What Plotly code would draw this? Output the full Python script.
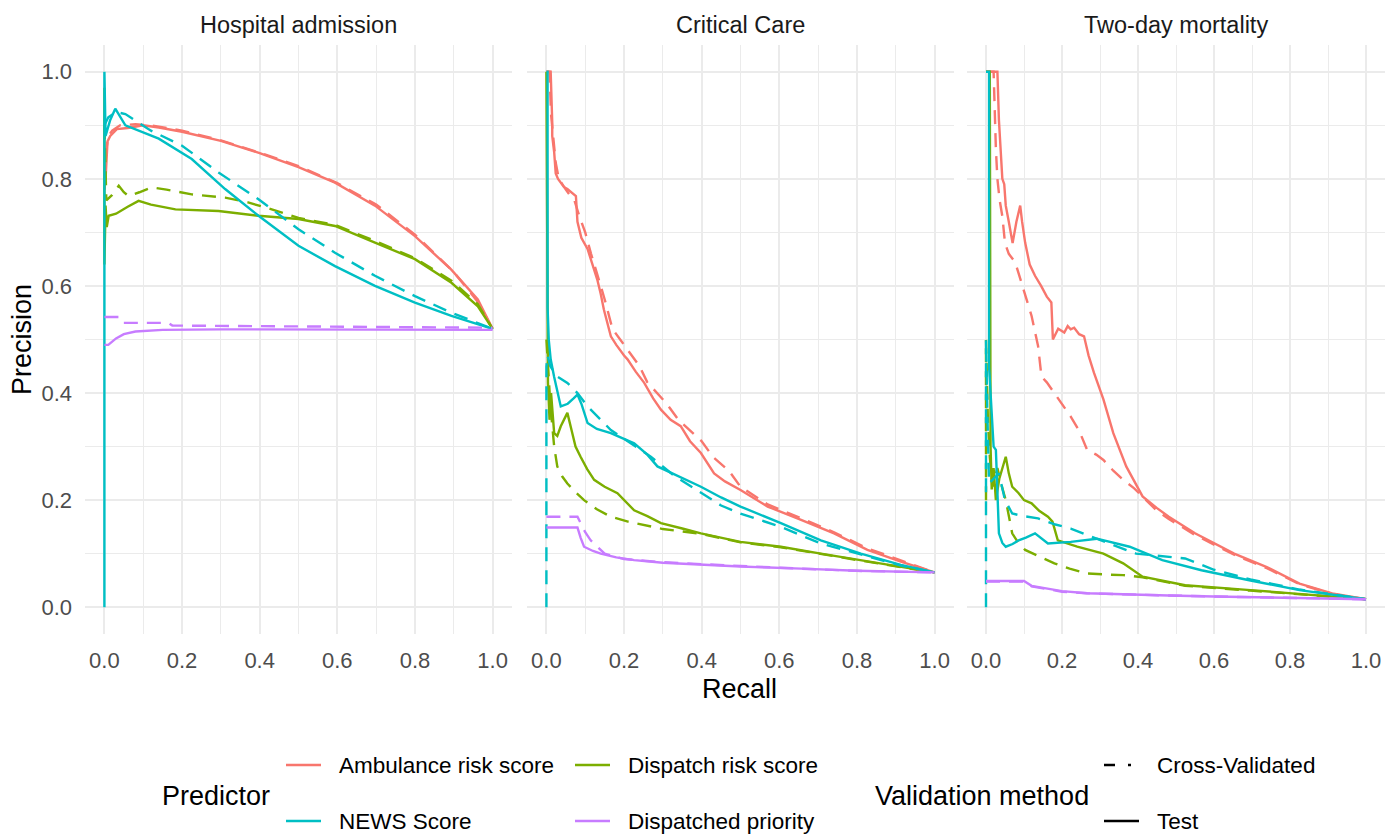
import plotly.graph_objects as go

# ---------------- data ----------------
panels = ["Hospital admission", "Critical Care", "Two-day mortality"]
predictors = ["Ambulance risk score", "Dispatch risk score", "NEWS Score", "Dispatched priority"]
methods = ["Cross-Validated", "Test"]
colors = {"Ambulance risk score": "#F8766D", "Dispatch risk score": "#7CAE00",
          "NEWS Score": "#00BFC4", "Dispatched priority": "#C77CFF"}
tick_vals = [0.0, 0.2, 0.4, 0.6, 0.8, 1.0]
tick_text = ["0.0", "0.2", "0.4", "0.6", "0.8", "1.0"]

# Hospital admission
ha_amb_test_r = [0, 0.003, 0.008, 0.015, 0.032, 0.06, 0.1, 0.14, 0.2, 0.3, 0.4, 0.5, 0.594, 0.697, 0.8, 0.893, 0.962, 1.0]
ha_amb_test_p = [0.78, 0.8, 0.87, 0.88, 0.893, 0.895, 0.9, 0.896, 0.888, 0.871, 0.848, 0.822, 0.793, 0.75, 0.693, 0.631, 0.575, 0.52]
ha_amb_cv_r = [0, 0.004, 0.01, 0.02, 0.04, 0.08, 0.12, 0.2, 0.3, 0.4, 0.5, 0.6, 0.7, 0.8, 0.9, 0.96, 1.0]
ha_amb_cv_p = [0.8, 0.85, 0.88, 0.89, 0.9, 0.902, 0.9, 0.89, 0.872, 0.849, 0.824, 0.792, 0.752, 0.696, 0.626, 0.572, 0.52]
ha_news_test_r = [0, 0, 0.003, 0.015, 0.028, 0.054, 0.14, 0.225, 0.311, 0.397, 0.5, 0.594, 0.697, 0.8, 0.894, 1.0]
ha_news_test_p = [0, 1.0, 0.88, 0.91, 0.931, 0.9, 0.875, 0.837, 0.781, 0.731, 0.675, 0.637, 0.6, 0.569, 0.544, 0.52]
ha_news_cv_r = [0, 0.01, 0.03, 0.054, 0.12, 0.2, 0.294, 0.397, 0.5, 0.594, 0.697, 0.8, 0.894, 1.0]
ha_news_cv_p = [0.9, 0.915, 0.925, 0.921, 0.89, 0.862, 0.812, 0.762, 0.706, 0.662, 0.619, 0.581, 0.55, 0.52]
ha_disp_test_r = [0, 0, 0.003, 0.006, 0.011, 0.03, 0.06, 0.088, 0.12, 0.183, 0.294, 0.397, 0.5, 0.594, 0.697, 0.8, 0.894, 0.962, 1.0]
ha_disp_test_p = [0.97, 0.64, 0.75, 0.71, 0.731, 0.735, 0.748, 0.759, 0.752, 0.743, 0.74, 0.731, 0.725, 0.712, 0.681, 0.65, 0.606, 0.562, 0.52]
ha_disp_cv_r = [0, 0.005, 0.02, 0.037, 0.05, 0.062, 0.09, 0.122, 0.16, 0.225, 0.311, 0.37, 0.431, 0.5, 0.594, 0.697, 0.8, 0.894, 0.962, 1.0]
ha_disp_cv_p = [0.9, 0.76, 0.77, 0.787, 0.775, 0.768, 0.775, 0.784, 0.78, 0.771, 0.765, 0.756, 0.743, 0.727, 0.714, 0.684, 0.652, 0.61, 0.566, 0.52]
ha_prio_test_r = [0, 0.01, 0.03, 0.05, 0.08, 0.15, 0.3, 1.0]
ha_prio_test_p = [0.49, 0.49, 0.502, 0.51, 0.515, 0.518, 0.519, 0.518]
ha_prio_cv_r = [0, 0.037, 0.045, 0.165, 0.175, 1.0]
ha_prio_cv_p = [0.542, 0.542, 0.531, 0.531, 0.526, 0.522]

# Critical Care
cc_amb_test_r = [0, 0.011, 0.015, 0.015, 0.02, 0.024, 0.03, 0.037, 0.045, 0.054, 0.065, 0.076, 0.08, 0.09, 0.106, 0.118, 0.131, 0.14, 0.148, 0.166, 0.18, 0.2, 0.209, 0.23, 0.252, 0.275, 0.295, 0.32, 0.346, 0.37, 0.398, 0.432, 0.46, 0.5, 0.57, 0.656, 0.741, 0.827, 0.913, 1.0]
cc_amb_test_p = [1.0, 1.0, 0.906, 0.88, 0.85, 0.81, 0.8, 0.793, 0.785, 0.781, 0.775, 0.768, 0.72, 0.69, 0.669, 0.64, 0.612, 0.585, 0.556, 0.506, 0.49, 0.47, 0.463, 0.44, 0.419, 0.39, 0.369, 0.35, 0.338, 0.31, 0.288, 0.25, 0.235, 0.219, 0.188, 0.163, 0.138, 0.107, 0.085, 0.065]
cc_amb_cv_r = [0, 0.008, 0.012, 0.018, 0.024, 0.032, 0.04, 0.05, 0.06, 0.072, 0.085, 0.1, 0.115, 0.128, 0.14, 0.152, 0.17, 0.19, 0.21, 0.24, 0.26, 0.285, 0.31, 0.34, 0.37, 0.4, 0.43, 0.47, 0.5, 0.57, 0.656, 0.741, 0.827, 0.913, 1.0]
cc_amb_cv_p = [1.0, 1.0, 0.92, 0.87, 0.83, 0.8, 0.79, 0.78, 0.77, 0.76, 0.73, 0.7, 0.66, 0.63, 0.6, 0.57, 0.52, 0.5, 0.48, 0.45, 0.42, 0.4, 0.38, 0.35, 0.33, 0.31, 0.28, 0.255, 0.225, 0.192, 0.166, 0.14, 0.11, 0.087, 0.065]
cc_news_test_r = [0, 0.003, 0.003, 0.006, 0.011, 0.02, 0.037, 0.055, 0.07, 0.08, 0.09, 0.106, 0.13, 0.166, 0.226, 0.26, 0.286, 0.34, 0.398, 0.45, 0.5, 0.604, 0.707, 0.81, 0.913, 1.0]
cc_news_test_p = [1.0, 1.0, 0.56, 0.5, 0.463, 0.43, 0.375, 0.38, 0.39, 0.397, 0.38, 0.344, 0.333, 0.325, 0.306, 0.285, 0.263, 0.245, 0.225, 0.205, 0.188, 0.157, 0.125, 0.1, 0.079, 0.065]
cc_news_cv_r = [0, 0, 0.003, 0.01, 0.028, 0.054, 0.08, 0.106, 0.166, 0.22, 0.269, 0.33, 0.398, 0.45, 0.5, 0.604, 0.707, 0.81, 0.913, 1.0]
cc_news_cv_p = [0, 0.45, 0.47, 0.45, 0.431, 0.419, 0.4, 0.375, 0.331, 0.305, 0.281, 0.245, 0.213, 0.19, 0.175, 0.15, 0.119, 0.098, 0.078, 0.065]
cc_disp_test_r = [0, 0.002, 0.004, 0.008, 0.012, 0.02, 0.028, 0.037, 0.045, 0.054, 0.065, 0.075, 0.088, 0.105, 0.123, 0.15, 0.183, 0.226, 0.26, 0.295, 0.35, 0.398, 0.5, 0.604, 0.707, 0.81, 0.913, 1.0]
cc_disp_test_p = [1.0, 0.55, 0.42, 0.35, 0.4, 0.325, 0.32, 0.338, 0.35, 0.363, 0.33, 0.3, 0.281, 0.258, 0.238, 0.225, 0.213, 0.181, 0.17, 0.157, 0.147, 0.138, 0.122, 0.113, 0.1, 0.088, 0.075, 0.065]
cc_disp_cv_r = [0, 0.004, 0.01, 0.02, 0.028, 0.04, 0.054, 0.075, 0.097, 0.13, 0.166, 0.21, 0.269, 0.3, 0.4, 0.5, 0.604, 0.707, 0.81, 0.913, 1.0]
cc_disp_cv_p = [0.5, 0.45, 0.38, 0.3, 0.263, 0.245, 0.231, 0.215, 0.2, 0.183, 0.169, 0.16, 0.15, 0.146, 0.137, 0.121, 0.112, 0.099, 0.087, 0.075, 0.065]
cc_prio_test_r = [0, 0.08, 0.088, 0.097, 0.12, 0.14, 0.18, 0.226, 0.3, 0.398, 0.5, 0.656, 0.8, 1.0]
cc_prio_test_p = [0.149, 0.149, 0.13, 0.113, 0.105, 0.1, 0.093, 0.088, 0.083, 0.079, 0.076, 0.072, 0.068, 0.065]
cc_prio_cv_r = [0, 0.08, 0.1, 0.114, 0.15, 0.2, 0.3, 0.4, 0.5, 0.656, 0.8, 1.0]
cc_prio_cv_p = [0.169, 0.169, 0.14, 0.125, 0.1, 0.09, 0.084, 0.08, 0.077, 0.072, 0.068, 0.065]

# Two-day mortality
dm_amb_test_r = [0, 0.03, 0.034, 0.038, 0.043, 0.048, 0.052, 0.06, 0.07, 0.08, 0.09, 0.095, 0.103, 0.115, 0.129, 0.145, 0.16, 0.172, 0.176, 0.19, 0.206, 0.215, 0.223, 0.232, 0.245, 0.258, 0.27, 0.284, 0.309, 0.335, 0.369, 0.412, 0.45, 0.481, 0.55, 0.653, 0.739, 0.825, 0.911, 1.0]
dm_amb_test_p = [1.0, 1.0, 0.91, 0.856, 0.8, 0.79, 0.75, 0.72, 0.68, 0.72, 0.75, 0.72, 0.681, 0.64, 0.619, 0.6, 0.58, 0.569, 0.5, 0.52, 0.513, 0.525, 0.519, 0.522, 0.51, 0.506, 0.47, 0.438, 0.388, 0.325, 0.263, 0.207, 0.185, 0.169, 0.138, 0.1, 0.075, 0.044, 0.026, 0.015]
dm_amb_cv_r = [0, 0.02, 0.026, 0.03, 0.036, 0.043, 0.05, 0.06, 0.077, 0.094, 0.11, 0.12, 0.137, 0.146, 0.16, 0.18, 0.2, 0.223, 0.245, 0.266, 0.29, 0.309, 0.335, 0.361, 0.39, 0.412, 0.45, 0.481, 0.55, 0.653, 0.739, 0.825, 0.911, 1.0]
dm_amb_cv_p = [1.0, 1.0, 0.856, 0.8, 0.76, 0.73, 0.68, 0.66, 0.644, 0.606, 0.57, 0.544, 0.488, 0.431, 0.42, 0.4, 0.38, 0.356, 0.33, 0.294, 0.285, 0.275, 0.255, 0.238, 0.222, 0.207, 0.18, 0.165, 0.135, 0.098, 0.073, 0.043, 0.025, 0.015]
dm_news_test_r = [0, 0.008, 0.008, 0.015, 0.02, 0.026, 0.03, 0.034, 0.043, 0.052, 0.07, 0.086, 0.105, 0.129, 0.163, 0.223, 0.292, 0.378, 0.464, 0.567, 0.696, 0.825, 1.0]
dm_news_test_p = [1.0, 1.0, 0.45, 0.35, 0.3, 0.294, 0.2, 0.138, 0.12, 0.113, 0.118, 0.125, 0.13, 0.138, 0.119, 0.122, 0.128, 0.113, 0.088, 0.069, 0.05, 0.032, 0.015]
dm_news_cv_r = [0, 0, 0.004, 0.008, 0.02, 0.034, 0.05, 0.069, 0.1, 0.137, 0.18, 0.223, 0.266, 0.33, 0.395, 0.524, 0.6, 0.696, 0.825, 1.0]
dm_news_cv_p = [0, 0.5, 0.35, 0.231, 0.24, 0.25, 0.2, 0.175, 0.17, 0.166, 0.155, 0.147, 0.135, 0.118, 0.1, 0.091, 0.07, 0.052, 0.033, 0.015]
dm_disp_test_r = [0, 0.01, 0.012, 0.015, 0.02, 0.026, 0.035, 0.044, 0.052, 0.06, 0.069, 0.086, 0.1, 0.12, 0.14, 0.163, 0.175, 0.189, 0.24, 0.309, 0.361, 0.412, 0.524, 0.696, 0.85, 1.0]
dm_disp_test_p = [1.0, 1.0, 0.3, 0.22, 0.26, 0.2, 0.24, 0.26, 0.281, 0.25, 0.225, 0.213, 0.2, 0.194, 0.18, 0.169, 0.16, 0.125, 0.113, 0.1, 0.082, 0.057, 0.041, 0.032, 0.024, 0.015]
dm_disp_cv_r = [0, 0, 0.005, 0.01, 0.017, 0.03, 0.04, 0.052, 0.069, 0.085, 0.103, 0.14, 0.18, 0.22, 0.266, 0.32, 0.361, 0.412, 0.524, 0.696, 0.85, 1.0]
dm_disp_cv_p = [0.2, 0.5, 0.35, 0.28, 0.225, 0.26, 0.23, 0.2, 0.138, 0.12, 0.107, 0.095, 0.082, 0.072, 0.063, 0.061, 0.06, 0.056, 0.04, 0.031, 0.023, 0.015]
dm_prio_test_r = [0, 0.1, 0.12, 0.163, 0.2, 0.266, 0.35, 0.48, 0.6, 0.8, 1.0]
dm_prio_test_p = [0.049, 0.049, 0.04, 0.035, 0.03, 0.026, 0.024, 0.022, 0.02, 0.018, 0.015]
dm_prio_cv_r = [0, 0.1, 0.12, 0.163, 0.2, 0.266, 0.35, 0.48, 0.6, 0.8, 1.0]
dm_prio_cv_p = [0.048, 0.048, 0.039, 0.034, 0.029, 0.026, 0.024, 0.022, 0.02, 0.017, 0.015]

curves = {
    "Hospital admission": {
        "Ambulance risk score": {"Cross-Validated": (ha_amb_cv_r, ha_amb_cv_p), "Test": (ha_amb_test_r, ha_amb_test_p)},
        "Dispatch risk score": {"Cross-Validated": (ha_disp_cv_r, ha_disp_cv_p), "Test": (ha_disp_test_r, ha_disp_test_p)},
        "NEWS Score": {"Cross-Validated": (ha_news_cv_r, ha_news_cv_p), "Test": (ha_news_test_r, ha_news_test_p)},
        "Dispatched priority": {"Cross-Validated": (ha_prio_cv_r, ha_prio_cv_p), "Test": (ha_prio_test_r, ha_prio_test_p)},
    },
    "Critical Care": {
        "Ambulance risk score": {"Cross-Validated": (cc_amb_cv_r, cc_amb_cv_p), "Test": (cc_amb_test_r, cc_amb_test_p)},
        "Dispatch risk score": {"Cross-Validated": (cc_disp_cv_r, cc_disp_cv_p), "Test": (cc_disp_test_r, cc_disp_test_p)},
        "NEWS Score": {"Cross-Validated": (cc_news_cv_r, cc_news_cv_p), "Test": (cc_news_test_r, cc_news_test_p)},
        "Dispatched priority": {"Cross-Validated": (cc_prio_cv_r, cc_prio_cv_p), "Test": (cc_prio_test_r, cc_prio_test_p)},
    },
    "Two-day mortality": {
        "Ambulance risk score": {"Cross-Validated": (dm_amb_cv_r, dm_amb_cv_p), "Test": (dm_amb_test_r, dm_amb_test_p)},
        "Dispatch risk score": {"Cross-Validated": (dm_disp_cv_r, dm_disp_cv_p), "Test": (dm_disp_test_r, dm_disp_test_p)},
        "NEWS Score": {"Cross-Validated": (dm_news_cv_r, dm_news_cv_p), "Test": (dm_news_test_r, dm_news_test_p)},
        "Dispatched priority": {"Cross-Validated": (dm_prio_cv_r, dm_prio_cv_p), "Test": (dm_prio_test_r, dm_prio_test_p)},
    },
}

# ---------------- layout geometry (window pixels) ----------------
OFF = 8                      # default page margin around the plot div
W, H = 1393 - 2 * OFF, 835 - OFF
FONT = "Liberation Sans, Arial, sans-serif"
panel_px = [(85, 512), (527, 954), (967, 1385)]
top_px, bot_px = 45, 634
dash_cv = "14px,9px"


def px_x(p):
    return (p - OFF) / W


def px_y(p):
    return 1 - (p - OFF) / H


fig = go.Figure()

for i, panel in enumerate(panels):
    ax = "" if i == 0 else str(i + 1)
    for pred in predictors:
        for m in methods:
            r, p = curves[panel][pred][m]
            fig.add_trace(go.Scatter(
                x=r, y=p, mode="lines",
                xaxis="x" + ax, yaxis="y" + ax,
                line=dict(color=colors[pred], width=2.4,
                          dash=dash_cv if m == "Cross-Validated" else "solid"),
                name=pred + " / " + m, showlegend=False, hoverinfo="skip"))

layout = dict(width=W, height=H, margin=dict(l=0, r=0, t=0, b=0),
              plot_bgcolor="white", paper_bgcolor="white",
              font=dict(family=FONT, color="#4D4D4D"), showlegend=False)

grid_col = "#EBEBEB"
minor_vals = [0.1, 0.3, 0.5, 0.7, 0.9]
for i in range(3):
    ax = "" if i == 0 else str(i + 1)
    x0, x1 = panel_px[i]
    layout["xaxis" + ax] = dict(
        domain=[px_x(x0), min(1.0, px_x(x1))], range=[-0.05, 1.05], anchor="y" + ax,
        tickvals=tick_vals, ticktext=tick_text, showgrid=True, gridcolor=grid_col,
        gridwidth=1.5, zeroline=False, showline=False, ticks="",
        ticklabelstandoff=11, tickfont=dict(size=22, color="#4D4D4D", family=FONT),
        minor=dict(tickvals=minor_vals, showgrid=True,
                   gridcolor=grid_col, gridwidth=1.0, ticks=""))
    layout["yaxis" + ax] = dict(
        domain=[px_y(bot_px), px_y(top_px)], range=[-0.05, 1.05], anchor="x" + ax,
        tickvals=tick_vals, ticktext=tick_text, showticklabels=(i == 0),
        showgrid=True, gridcolor=grid_col, gridwidth=1.5, zeroline=False,
        showline=False, ticks="", ticklabelstandoff=12,
        tickfont=dict(size=22, color="#4D4D4D", family=FONT),
        minor=dict(tickvals=minor_vals, showgrid=True,
                   gridcolor=grid_col, gridwidth=1.0, ticks=""))

annotations = []
shapes = []


def text_at(text, x, y, size, color="black", xanchor="center", angle=0):
    annotations.append(dict(text=text, x=px_x(x), y=px_y(y), xref="paper", yref="paper",
                            xanchor=xanchor, yanchor="middle", showarrow=False,
                            textangle=angle, font=dict(size=size, color=color, family=FONT)))


# strip titles
for i, panel in enumerate(panels):
    x0, x1 = panel_px[i]
    text_at(panel, (x0 + x1) / 2, 25, 23.5, color="#1A1A1A")
# axis titles
text_at("Recall", 739, 689, 27)
text_at("Precision", 22, 340, 27, angle=-90)

# custom legend
row_y = [765, 821]
text_at("Predictor", 160, 796, 27, xanchor="left")
leg_cols = [(286, 321, 337), (575, 610, 626)]
leg_items = [[predictors[0], predictors[2]], [predictors[1], predictors[3]]]
for c, (sx0, sx1, tx) in enumerate(leg_cols):
    for rr, pred in enumerate(leg_items[c]):
        shapes.append(dict(type="line", xref="paper", yref="paper",
                           x0=px_x(sx0), x1=px_x(sx1), y0=px_y(row_y[rr]), y1=px_y(row_y[rr]),
                           line=dict(color=colors[pred], width=2.5)))
        text_at(pred, tx, row_y[rr], 22.5, xanchor="left")

text_at("Validation method", 873, 796, 27, xanchor="left")
for rr, m in enumerate(methods):
    shapes.append(dict(type="line", xref="paper", yref="paper",
                       x0=px_x(1104), x1=px_x(1139), y0=px_y(row_y[rr]), y1=px_y(row_y[rr]),
                       line=dict(color="black", width=2.5,
                                 dash="11px,13px,3px,20px" if m == "Cross-Validated" else "solid")))
    text_at(m, 1155, row_y[rr], 22.5, xanchor="left")

layout["annotations"] = annotations
layout["shapes"] = shapes
fig.update_layout(**layout)
fig.write_html("out.html")
